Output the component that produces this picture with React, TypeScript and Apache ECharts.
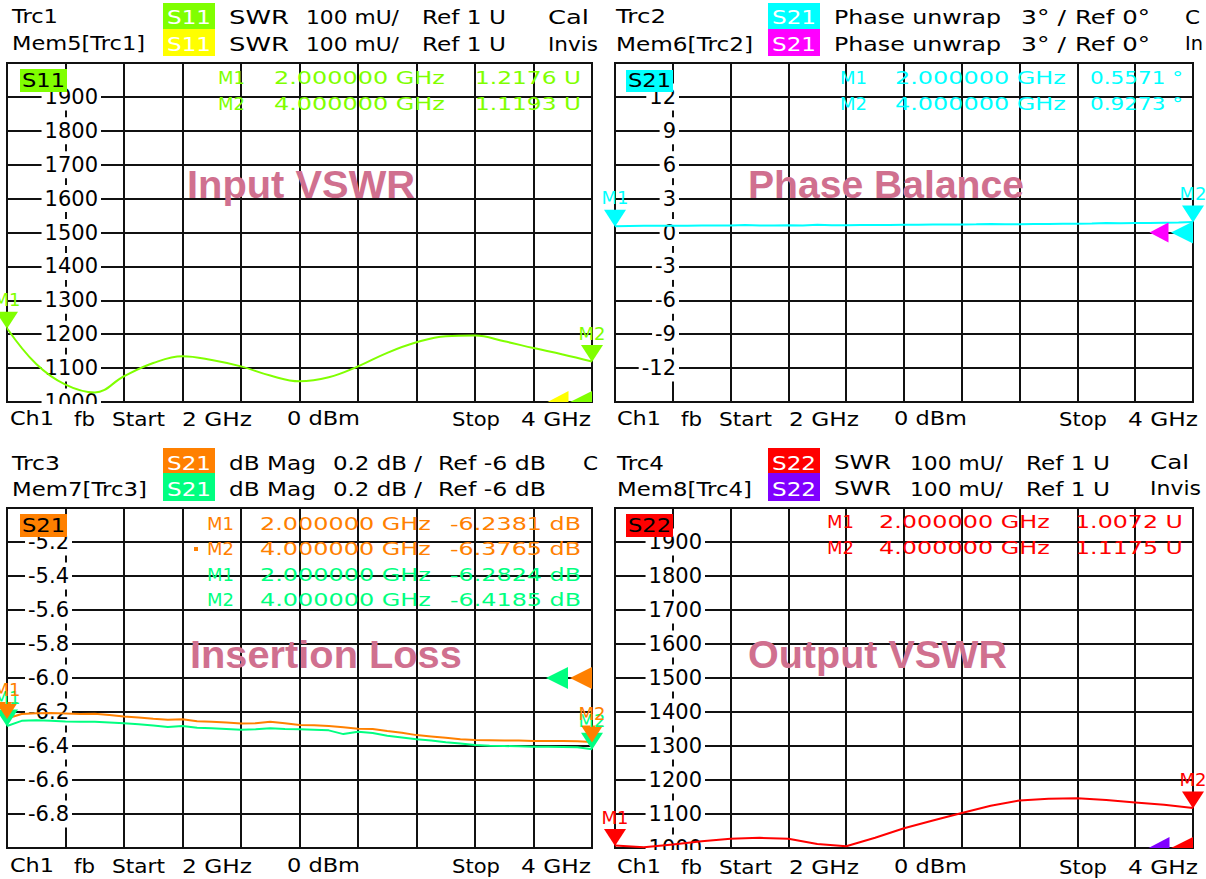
import React, { useEffect, useRef } from 'react';
import * as echarts from 'echarts';

const FONT = 'DejaVu Sans';

// ---------- data ----------
const freqs21 = [2.0, 2.1, 2.2, 2.3, 2.4, 2.5, 2.6, 2.7, 2.8, 2.9, 3.0, 3.1, 3.2, 3.3, 3.4, 3.5, 3.6, 3.7, 3.8, 3.9, 4.0];
const freqs41 = [2.0, 2.05, 2.1, 2.15, 2.2, 2.25, 2.3, 2.35, 2.4, 2.45, 2.5, 2.55, 2.6, 2.65, 2.7, 2.75, 2.8, 2.85, 2.9, 2.95, 3.0,
  3.05, 3.1, 3.15, 3.2, 3.25, 3.3, 3.35, 3.4, 3.45, 3.5, 3.55, 3.6, 3.65, 3.7, 3.75, 3.8, 3.85, 3.9, 3.95, 4.0];

// S11 SWR (mU)
const inputVswr = [1217.6, 1112, 1051, 1028, 1076, 1115, 1135, 1124, 1105, 1078, 1061, 1073, 1105, 1145, 1176, 1194, 1196, 1179, 1159, 1140, 1119.3];
// S21 phase unwrap (deg)
const phaseBalance = [0.557, 0.58, 0.59, 0.59, 0.60, 0.60, 0.61, 0.61, 0.62, 0.66, 0.62, 0.63, 0.64, 0.63, 0.68, 0.64, 0.65, 0.66, 0.66, 0.67,
  0.68, 0.69, 0.70, 0.70, 0.71, 0.72, 0.75, 0.73, 0.74, 0.75, 0.76, 0.77, 0.78, 0.79, 0.84, 0.81, 0.83, 0.84, 0.86, 0.88, 0.927];
// S21 dB mag, Trc3 and Mem7
const lossTrc3 = [-6.238, -6.212, -6.208, -6.206, -6.209, -6.212, -6.210, -6.218, -6.226, -6.232, -6.240, -6.246, -6.242, -6.254, -6.258,
  -6.262, -6.268, -6.266, -6.258, -6.266, -6.276, -6.278, -6.282, -6.290, -6.298, -6.300, -6.312, -6.322, -6.336, -6.344, -6.352,
  -6.360, -6.364, -6.366, -6.368, -6.368, -6.370, -6.370, -6.371, -6.372, -6.3765];
const lossMem7 = [-6.2824, -6.252, -6.248, -6.252, -6.256, -6.258, -6.258, -6.262, -6.266, -6.272, -6.280, -6.288, -6.282, -6.292, -6.296,
  -6.300, -6.304, -6.302, -6.296, -6.300, -6.302, -6.304, -6.308, -6.330, -6.316, -6.324, -6.340, -6.350, -6.360, -6.368, -6.378,
  -6.386, -6.394, -6.398, -6.400, -6.402, -6.404, -6.404, -6.406, -6.408, -6.4185];
// S22 SWR (mU)
const outputVswr = [1007.2, 1002, 1010, 1020, 1027, 1030, 1027, 1012, 1005, 1030, 1058, 1081, 1103, 1124, 1140, 1145, 1146, 1141, 1134, 1127, 1117.5];

const markerFreqs = [2, 4];
const markerNames = ['M1', 'M2'];
const inputMarkers = [1217.6, 1119.3];
const phaseMarkers = [0.5571, 0.9273];
const lossTrc3Markers = [-6.2381, -6.3765];
const lossMem7Markers = [-6.2824, -6.4185];
const outputMarkers = [1007.2, 1117.5];

const refInput = 1000;
const refPhase = 0;
const refLoss = -6.0;
const refOutput = 1000;

const C = {
  s11: '#80ff00', mem5: '#ffff00', s21: '#00ffff', mem6: '#ff00ff',
  trc3: '#ff8000', mem7: '#00ff80', s22: '#ff0000', mem8: '#8000ff', title: '#d0708f',
};

const zip = (xs: number[], ys: number[]) => ys.map((y, i) => [xs[i], y]);

export default function App() {
  const ref = useRef<HTMLDivElement>(null);
  useEffect(() => {
    if (!ref.current) return;
    const chart = echarts.init(ref.current, undefined, { renderer: 'svg' });
    const ctx = document.createElement('canvas').getContext('2d')!;

    const txt = (text: string, x: number, y: number, w: number | null, color = '#000', size = 19, weight = 'normal', family = FONT) => {
      const font = `${weight} ${size}px "${family}"`;
      ctx.font = font;
      const mw = ctx.measureText(text).width || 1;
      const sx = w ? w / mw : 1.15;
      return {
        type: 'text', x, y, scaleX: sx, z: 50, silent: true,
        style: { text, fill: color, font, textAlign: 'left', textVerticalAlign: 'middle', align: 'left', verticalAlign: 'middle' },
      };
    };
    const rect = (x: number, y: number, w: number, h: number, fill: string, z = 45) => ({
      type: 'rect', shape: { x, y, width: w, height: h }, style: { fill }, z, silent: true,
    });

    const grids = [
      { left: 7, top: 63, width: 585, height: 339 },
      { left: 615, top: 63, width: 578, height: 339 },
      { left: 7, top: 508, width: 585, height: 340 },
      { left: 615, top: 508, width: 578, height: 340 },
    ].map((g) => ({ ...g, show: true, borderColor: '#111', borderWidth: 2, backgroundColor: '#fff' }));

    const xAxes = [0, 1, 2, 3].map((i) => ({
      gridIndex: i, type: 'value', min: 2, max: 4, interval: 0.2, z: 0,
      axisLine: { show: false }, axisTick: { show: false }, axisLabel: { show: false },
      splitLine: { show: true, lineStyle: { color: '#111', width: 2 } },
    }));

    const yAxis = (gi: number, min: number, max: number, interval: number, margin: number, showMin: boolean, fmt: (v: number) => string) => ({
      gridIndex: gi, type: 'value', min, max, interval, z: 1,
      axisLine: { show: false }, axisTick: { show: false },
      splitLine: { show: true, lineStyle: { color: '#111', width: 2 } },
      axisLabel: {
        show: true, inside: true, margin, align: 'right', showMinLabel: showMin, showMaxLabel: false,
        formatter: fmt, color: '#000', fontFamily: FONT, fontSize: 21, backgroundColor: '#fff', padding: [3, 3, 3, 3],
      },
    });
    const yAxes = [
      yAxis(0, 1000, 2000, 100, 94, true, (v) => String(Math.round(v))),
      yAxis(1, -15, 15, 3, 64, false, (v) => String(Math.round(v))),
      yAxis(2, -7, -5, 0.2, 65, false, (v) => v.toFixed(1)),
      yAxis(3, 1000, 2000, 100, 90, true, (v) => String(Math.round(v))),
    ];

    const halfTri = 'path://M0,10L20,0L20,10Z';
    const markerItems = (vals: number[] | null, refVal: number, offX: number, half: boolean, size: number[]) => {
      const items: any[] = [];
      if (vals) vals.forEach((v, i) => items.push({ name: markerNames[i], coord: [markerFreqs[i], v] }));
      items.push({
        name: 'ref', coord: [4, refVal],
        symbol: half ? halfTri : 'triangle', symbolRotate: half ? 0 : 90,
        symbolSize: half ? [size[0], size[1] / 2] : size,
        symbolOffset: half ? [offX, -size[1] / 4] : [offX, 0],
        label: { show: false },
      });
      return items;
    };
    const series = (gi: number, data: number[][], color: string, vals: number[] | null, refVal: number, offX: number, half: boolean, size: number[], z: number, smooth: any = false) => ({
      type: 'line', xAxisIndex: gi, yAxisIndex: gi, data, symbol: 'none', smooth, silent: true, z,
      lineStyle: { color, width: 2 }, itemStyle: { color },
      markPoint: {
        symbol: 'triangle', symbolRotate: 180, symbolSize: [22, 17], symbolOffset: [0, -8], silent: true,
        itemStyle: { color },
        label: { show: true, position: 'top', distance: 3, formatter: '{b}', color, fontFamily: FONT, fontSize: 18 },
        data: markerItems(vals, refVal, offX, half, size),
      },
    });

    const seriesList = [
      series(0, [], C.mem5, null, refInput, -34, true, [21, 22], 3),
      series(0, zip(freqs21, inputVswr), C.s11, inputMarkers, refInput, -11, true, [22, 22], 4, 0.4),
      series(1, [], C.mem6, null, refPhase, -34, false, [20, 19], 3),
      series(1, zip(freqs41, phaseBalance), C.s21, phaseMarkers, refPhase, -11, false, [22, 22], 4),
      series(2, zip(freqs41, lossMem7), C.mem7, lossMem7Markers, refLoss, -35, false, [22, 22], 3),
      series(2, zip(freqs41, lossTrc3), C.trc3, lossTrc3Markers, refLoss, -11, false, [22, 22], 4),
      series(3, [], C.mem8, null, refOutput, -34, true, [21, 22], 3),
      series(3, zip(freqs21, outputVswr), C.s22, outputMarkers, refOutput, -11, true, [22, 22], 4),
    ];

    const fmtU = (v: number) => `${(v / 1000).toFixed(4)} U`;
    const g: any[] = [];
    // header rows
    const header = (xL: number, xB: number, y1: number, y2: number, bTop: number, b1h: number, b2h: number,
      n1: string, w1: number, n2: string, w2: number, sp: string, c1: string, c2: string,
      words: [string, number, number][], tail1: [string, number, number] | null, tail2: [string, number, number] | null) => {
      g.push(txt(n1, xL, y1, w1));
      g.push(txt(n2, xL, y2, w2));
      g.push(rect(xB, bTop, 52, b1h, c1));
      g.push(rect(xB, bTop + b1h, 52, b2h, c2));
      g.push(txt(sp, xB + 4, y1, 44, '#fff'));
      g.push(txt(sp, xB + 4, y2, 44, '#fff'));
      words.forEach(([t, x, w]) => { g.push(txt(t, x, y1, w)); g.push(txt(t, x, y2, w)); });
      if (tail1) g.push(txt(tail1[0], tail1[1], y1, tail1[2]));
      if (tail2) g.push(txt(tail2[0], tail2[1], y2, tail2[2]));
    };
    header(12, 163, 17, 44, 3, 26, 27, 'Trc1', 46, 'Mem5[Trc1]', 133, 'S11', C.s11, C.mem5,
      [['SWR', 229, 60], ['100 mU/', 306, 93], ['Ref 1 U', 422, 84]], ['Cal', 548, 41], ['Invis', 548, 50]);
    header(616, 768, 17, 44, 3, 26, 27, 'Trc2', 50, 'Mem6[Trc2]', 137, 'S21', C.s21, C.mem6,
      [['Phase unwrap', 834, 167], ['3° /', 1021, 45], ['Ref 0°', 1075, 75]], ['C', 1185, 15], ['In', 1185, 18]);
    header(12, 163, 463, 489, 448, 25, 28, 'Trc3', 48, 'Mem7[Trc3]', 135, 'S21', C.trc3, C.mem7,
      [['dB Mag', 229, 87], ['0.2 dB /', 333, 89], ['Ref -6 dB', 438, 108]], ['C', 583, 15], null);
    header(617, 768, 463, 489, 448, 25, 28, 'Trc4', 47, 'Mem8[Trc4]', 135, 'S22', C.s22, C.mem8,
      [['SWR', 834, 57], ['100 mU/', 910, 93], ['Ref 1 U', 1026, 84]], ['Cal', 1150, 39], ['Invis', 1150, 51]);

    // active trace tags
    g.push(rect(20, 69, 47, 23, C.s11), txt('S11', 22, 81, 43));
    g.push(rect(626, 70, 47, 22, C.s21), txt('S21', 628, 81, 43));
    g.push(rect(20, 514, 47, 23, C.trc3), txt('S21', 22, 526, 43));
    g.push(rect(626, 514, 47, 23, C.s22), txt('S22', 628, 526, 43));

    // marker readouts
    const readout = (xM: number, xF: number, xV: number, wV: number, ys: number[], color: string, vals: string[]) => {
      ys.forEach((y, i) => {
        g.push(txt(markerNames[i], xM, y, 27, color, 18));
        g.push(txt(`${markerFreqs[i].toFixed(6)} GHz`, xF, y, 171, color, 18));
        g.push(txt(vals[i], xV, y, wV, color, 18));
      });
    };
    readout(218, 274, 475, 106, [78, 104], C.s11, inputMarkers.map(fmtU));
    readout(840, 895, 1090, 93, [78, 104], C.s21, phaseMarkers.map((v) => `${v.toFixed(4)} °`));
    readout(207, 260, 450, 131, [524, 549], C.trc3, lossTrc3Markers.map((v) => `${v.toFixed(4)} dB`));
    readout(207, 260, 450, 131, [575, 600], C.mem7, lossMem7Markers.map((v) => `${v.toFixed(4)} dB`));
    readout(827, 879, 1075, 108, [522, 548], C.s22, outputMarkers.map(fmtU));
    g.push(rect(194, 547, 4, 4, C.trc3, 50));

    // footers
    const footer = (dx: number, y: number) => {
      const parts: [string, number, number][] = [['Ch1', 10, 44], ['fb', 74, 21], ['Start', 112, 53], ['2 GHz', 182, 70],
        ['0 dBm', 287, 73], ['Stop', 452, 48], ['4 GHz', 521, 70]];
      parts.forEach(([t, x, w]) => g.push(txt(t, x + dx, y, w)));
    };
    footer(0, 419); footer(607, 867); footer(0, 866); footer(607, 419);

    // clip half of lowest axis label
    g.push(rect(38, 404, 70, 7, '#fff', 40));
    g.push(rect(645, 850, 68, 7, '#fff', 40));

    // panel titles
    g.push(txt('Input VSWR', 187, 185, 228, C.title, 38, 'bold', 'Liberation Sans'));
    g.push(txt('Phase Balance', 748, 185, 276, C.title, 38, 'bold', 'Liberation Sans'));
    g.push(txt('Insertion Loss', 190, 655, 272, C.title, 38, 'bold', 'Liberation Sans'));
    g.push(txt('Output VSWR', 748, 655, 259, C.title, 38, 'bold', 'Liberation Sans'));

    chart.setOption({
      animation: false,
      backgroundColor: '#fff',
      grid: grids,
      xAxis: xAxes,
      yAxis: yAxes,
      series: seriesList,
      graphic: { elements: g },
    });
    return () => chart.dispose();
  }, []);
  return <div ref={ref} style={{ position: 'absolute', left: 0, top: 0, width: 1206, height: 879, background: '#fff' }} />;
}
